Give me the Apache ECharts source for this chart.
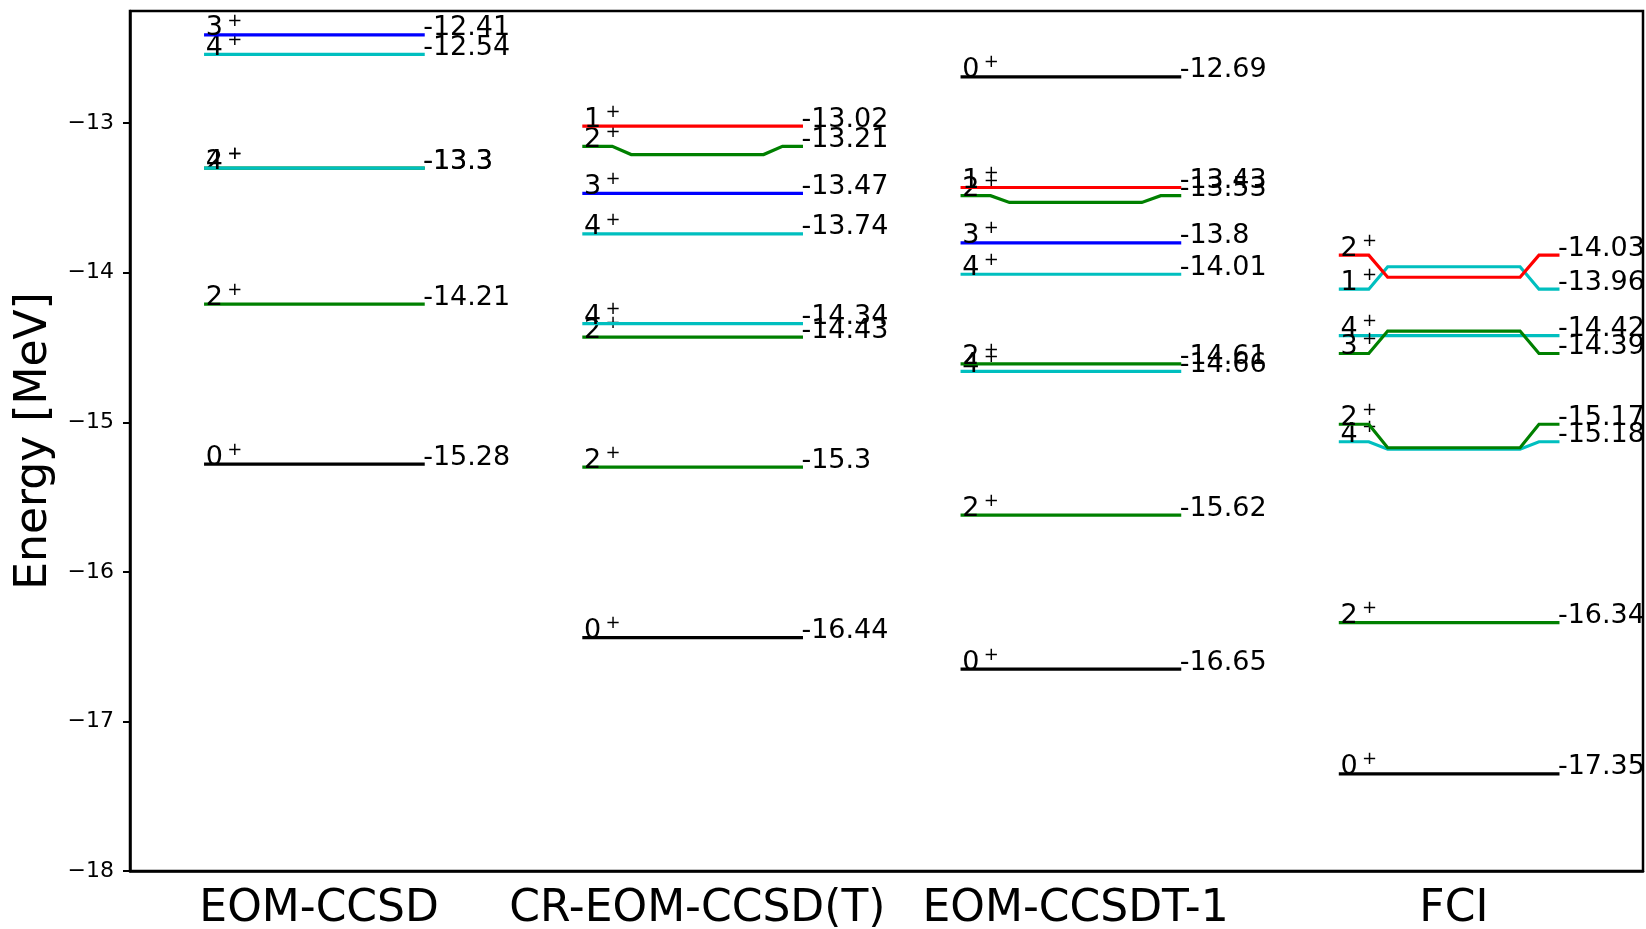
<!DOCTYPE html>
<html>
<head>
<meta charset="utf-8">
<script src="https://cdn.jsdelivr.net/npm/echarts@6/dist/echarts.min.js"></script>
<style>
  html, body { margin: 0; padding: 0; background: #fff; }
  #chart { width: 1646px; height: 929px; }
</style>
</head>
<body>
<div id="chart"></div>
<script>
// methods on the x axis
const methods = ['EOM-CCSD', 'CR-EOM-CCSD(T)', 'EOM-CCSDT-1', 'FCI'];

// EOM-CCSD levels: J label, energy, energy where the ends/labels sit
const eomccsdJ = ['0', '2', '2', '4', '4', '3'];
const eomccsdE = [-15.28, -14.21, -13.3, -13.3, -12.54, -12.41];
const eomccsdLabelE = [-15.28, -14.21, -13.3, -13.3, -12.54, -12.41];

// CR-EOM-CCSD(T)
const crccsdtJ = ['0', '2', '2', '4', '4', '3', '2', '1'];
const crccsdtE = [-16.44, -15.3, -14.43, -14.34, -13.74, -13.47, -13.21, -13.02];
const crccsdtLabelE = [-16.44, -15.3, -14.43, -14.34, -13.74, -13.47, -13.155, -13.02];

// EOM-CCSDT-1
const ccsdt1J = ['0', '2', '4', '2', '4', '3', '2', '1', '0'];
const ccsdt1E = [-16.65, -15.62, -14.66, -14.61, -14.01, -13.8, -13.53, -13.43, -12.69];
const ccsdt1LabelE = [-16.65, -15.62, -14.66, -14.61, -14.01, -13.8, -13.485, -13.43, -12.69];

// FCI
const fciJ = ['0', '2', '4', '2', '4', '3', '1', '2'];
const fciE = [-17.35, -16.34, -15.18, -15.17, -14.42, -14.39, -13.96, -14.03];
const fciLabelE = [-17.35, -16.34, -15.13, -15.013, -14.42, -14.54, -14.11, -13.882];

const yTicks = [-18, -17, -16, -15, -14, -13];

// line colours (matplotlib single-letter colours)
const colorMap = {k: '#000000', r: '#ff0000', g: '#008000', b: '#0000ff', c: '#00bfbf'};
const eomccsdColors = ['k', 'g', 'g', 'c', 'c', 'b'];
const crccsdtColors = ['k', 'g', 'g', 'c', 'c', 'b', 'g', 'r'];
const ccsdt1Colors = ['k', 'g', 'c', 'g', 'c', 'b', 'g', 'r', 'k'];
const fciColors = ['k', 'g', 'c', 'g', 'c', 'g', 'c', 'r'];

const groups = [
    [eomccsdJ, eomccsdE, eomccsdLabelE, eomccsdColors],
    [crccsdtJ, crccsdtE, crccsdtLabelE, crccsdtColors],
    [ccsdt1J, ccsdt1E, ccsdt1LabelE, ccsdt1Colors],
    [fciJ, fciE, fciLabelE, fciColors]
];

const levels = [];
const seriesData = [];
groups.forEach(function (g, mi) {
    g[1].forEach(function (e, k) {
        levels.push({j: g[0][k], e: e, color: colorMap[g[3][k]]});
        seriesData.push([mi, e, g[2][k], levels.length - 1]);
    });
});

const FONT = '"DejaVu Sans", sans-serif';
// x offsets (in band units) of the level polyline
const xo = [-0.3, -0.225, -0.175, 0.175, 0.225, 0.275];

function renderLevel(params, api) {
    const mi = api.value(0);
    const lv = levels[api.value(3)];
    const mid = api.coord([mi, api.value(1)]);
    const end = api.coord([mi, api.value(2)]);
    const w = api.size([1, 0])[0];
    const cx = mid[0];
    const pts = [
        [cx + xo[0] * w, end[1]],
        [cx + xo[1] * w, end[1]],
        [cx + xo[2] * w, mid[1]],
        [cx + xo[3] * w, mid[1]],
        [cx + xo[4] * w, end[1]],
        [cx + xo[5] * w, end[1]]
    ];
    return {
        type: 'group',
        children: [
            {
                type: 'polyline',
                shape: {points: pts},
                style: {stroke: lv.color, lineWidth: 3.2, fill: null, lineCap: 'square'}
            },
            {
                type: 'text',
                x: cx + xo[0] * w,
                y: end[1] - 6.5,
                style: {text: lv.j, fill: '#000', fontSize: 27, fontFamily: FONT,
                    textAlign: 'left', textVerticalAlign: 'middle'}
            },
            {
                type: 'text',
                x: cx + xo[0] * w + 21.5,
                y: end[1] - 14,
                style: {text: '+', fill: '#000', fontSize: 18, fontFamily: FONT,
                    textAlign: 'left', textVerticalAlign: 'middle'}
            },
            {
                type: 'text',
                x: cx + xo[5] * w,
                y: end[1] - 6.5,
                style: {text: String(lv.e), fill: '#000', fontSize: 27, fontFamily: FONT,
                    textAlign: 'left', textVerticalAlign: 'middle'}
            }
        ]
    };
}

const chart = echarts.init(document.getElementById('chart'), null, {renderer: 'canvas'});

const option = {
    animation: false,
    backgroundColor: '#ffffff',
    grid: {
        left: 130, right: 3, top: 11, bottom: 58,
        containLabel: false,
        outerBoundsMode: 'none',
        show: true, borderColor: '#000', borderWidth: 2.5, backgroundColor: 'transparent'
    },
    xAxis: {
        type: 'category',
        data: methods,
        boundaryGap: true,
        axisLine: {lineStyle: {color: '#000', width: 2.5}},
        axisTick: {alignWithLabel: true, length: 7, lineStyle: {color: '#000', width: 2}},
        axisLabel: {color: '#000', fontSize: 44, fontFamily: FONT, margin: 17, interval: 0},
        splitLine: {show: false}
    },
    yAxis: {
        type: 'value',
        min: -18,
        max: -12.25,
        interval: 1,
        name: 'Energy [MeV]',
        nameLocation: 'middle',
        nameGap: 69,
        nameRotate: 90,
        nameTextStyle: {color: '#000', fontSize: 44, fontFamily: FONT},
        axisLine: {show: true, lineStyle: {color: '#000', width: 2.5}},
        axisTick: {show: true, length: 7, lineStyle: {color: '#000', width: 2}},
        axisLabel: {
            color: '#000', fontSize: 22, fontFamily: FONT, margin: 16,
            showMaxLabel: false,
            formatter: function (v) {
                return yTicks.indexOf(v) >= 0 ? (v < 0 ? '\u2212' + Math.abs(v) : String(v)) : '';
            }
        },
        splitLine: {show: false}
    },
    series: [{
        type: 'custom',
        renderItem: renderLevel,
        data: seriesData,
        encode: {x: 0, y: 1},
        clip: false
    }]
};

chart.setOption(option);
</script>
</body>
</html>
